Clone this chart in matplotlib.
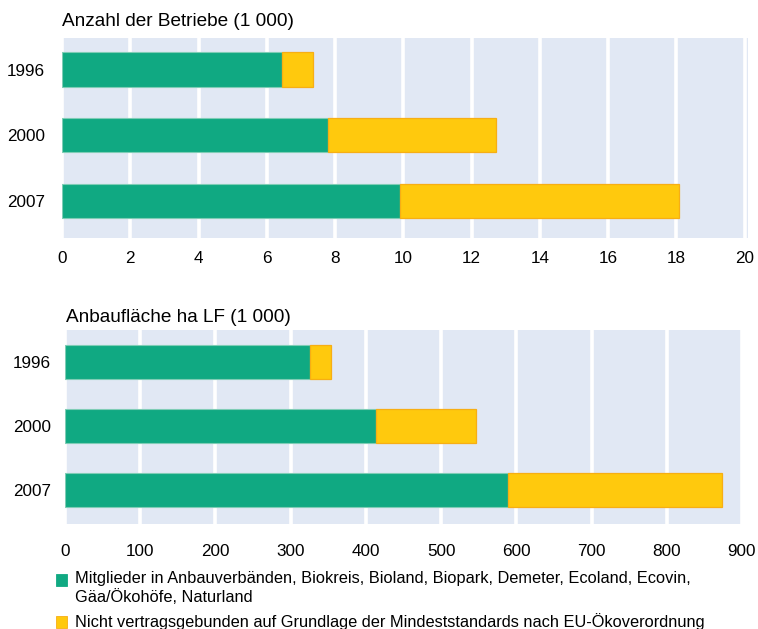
import matplotlib
matplotlib.use("Agg")
import matplotlib.pyplot as plt
from matplotlib.patches import Rectangle

plt.rcParams['font.family'] = ['Liberation Sans', 'DejaVu Sans']

years = ["1996", "2000", "2007"]
betriebe_verband = [6.45, 7.8, 9.9]
betriebe_eu = [0.9, 4.92, 8.17]
flaeche_verband = [326, 413, 589]
flaeche_eu = [27, 133, 284]
title_top = "Anzahl der Betriebe (1 000)"
title_bottom = "Anbaufläche ha LF (1 000)"
legend_labels = [
    "Mitglieder in Anbauverbänden, Biokreis, Bioland, Biopark, Demeter, Ecoland, Ecovin,\nGäa/Ökohöfe, Naturland",
    "Nicht vertragsgebunden auf Grundlage der Mindeststandards nach EU-Ökoverordnung",
]

GREEN = "#10A982"
YELLOW = "#FFC90D"
YEDGE = "#F7AE14"
BG = "#E1E8F4"
FS = 12.3

fig = plt.figure(figsize=(7.58, 6.29), dpi=100)

def panel(rect, a, b, xticks, xlim, ylim, xpad, ypad):
    ax = fig.add_axes(rect)
    ax.set_facecolor(BG)
    y = list(range(len(years)))
    ax.barh(y, a, height=0.52, color=GREEN, edgecolor="#7FCDB6", linewidth=0.8, zorder=3)
    ax.barh(y, b, left=a, height=0.52, color=YELLOW, edgecolor=YEDGE, linewidth=0.9, zorder=3)
    ax.set_xlim(*xlim)
    ax.set_ylim(*ylim)
    ax.set_yticks(y)
    ax.set_yticklabels(years, fontsize=FS)
    ax.set_xticks(xticks)
    ax.set_xticklabels([str(t) for t in xticks], fontsize=FS)
    ax.tick_params(length=0)
    ax.tick_params(axis='x', pad=xpad)
    ax.tick_params(axis='y', pad=ypad)
    for s in ax.spines.values():
        s.set_visible(False)
    ax.grid(axis='x', color='white', linewidth=2.6, zorder=1)
    ax.set_axisbelow(True)
    return ax

ax1 = panel([0.0818, 0.6216, 0.905, 0.318], betriebe_verband, betriebe_eu,
            list(range(0, 21, 2)), (0, 20.1), (2.56, -0.48), 9.5, 12)
ax2 = panel([0.0858, 0.1669, 0.894, 0.3085], flaeche_verband, flaeche_eu,
            list(range(0, 901, 100)), (0, 901), (2.53, -0.5), 14.5, 10)

fig.text(62/758, 1 - 21/629, title_top, fontsize=13.7, va='center', ha='left')
fig.text(66/758, 1 - 318/629, title_bottom, fontsize=13.7, va='center', ha='left')

# legend
colors = [GREEN, YELLOW]
ys = [580, 622]
for c, lab, yy in zip(colors, legend_labels, ys):
    fig.patches.append(Rectangle((56/758, 1 - (yy + 6)/629), 11/758, 12/629,
                                 transform=fig.transFigure, facecolor=c,
                                 edgecolor=YEDGE if c == YELLOW else c, linewidth=0.6))
    fig.text(75/758, 1 - (yy - 9)/629, lab, fontsize=11.8, va='top', ha='left', linespacing=1.24)

fig.savefig("out.png", dpi=100)
